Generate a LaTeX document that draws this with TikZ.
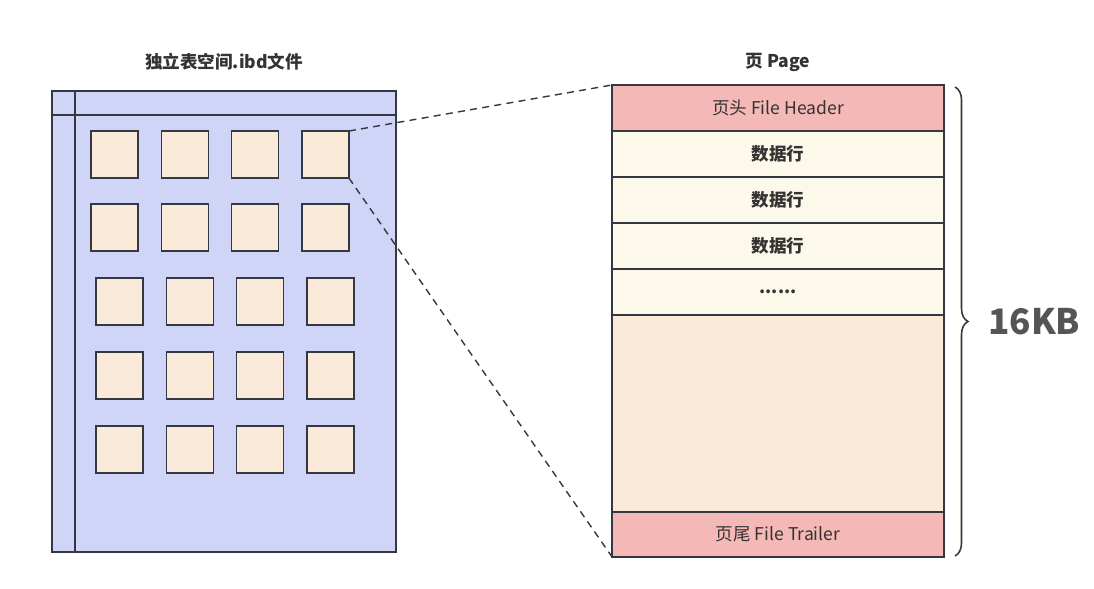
\documentclass[tikz,border=0pt]{standalone}
\usepackage{fontspec}
\setmainfont{Noto Sans CJK SC}
\usetikzlibrary{positioning,decorations.pathreplacing}
\definecolor{FileBlue}{RGB}{208,212,247}
\definecolor{BlockPeach}{RGB}{251,233,218}
\definecolor{HeadPink}{RGB}{244,184,182}
\definecolor{RowCream}{RGB}{252,248,234}
\definecolor{EdgeGray}{RGB}{51,56,66}
\definecolor{TextGray}{RGB}{51,51,51}
\definecolor{SizeGray}{RGB}{85,85,85}
\tikzset{
  block/.style={draw=EdgeGray,fill=BlockPeach,line width=0.9pt,minimum size=0.94cm,inner sep=0pt,outer sep=0pt},
  pagerow/.style={draw=EdgeGray,line width=0.9pt,minimum width=6.64cm,minimum height=0.92cm,inner sep=0pt,outer sep=0pt,text=TextGray},
  title/.style={text=TextGray,font=\bfseries},
}

\begin{document}
\begin{tikzpicture}[x=0.02cm,y=-0.02cm]
  \useasboundingbox (0,0) rectangle (1094,588);
  % the .ibd file
  \draw[draw=EdgeGray,fill=FileBlue,line width=0.9pt] (52,91) rectangle (396,552);
  \draw[EdgeGray,line width=0.9pt] (75,91) -- (75,552);
  \draw[EdgeGray,line width=0.9pt] (52,115) -- (396,115);
  \node[title] (filetitle) at (224,62) {独立表空间.ibd文件};
  \foreach \r/\y/\x in {1/131/91,2/204/91,3/278/96,4/352/96,5/426/96}
    \foreach \c in {1,...,4}
      \node[block,anchor=north west] (sq-\r-\c) at ({\x+(\c-1)*70.3},\y) {};
  % one page
  \node[title] (pagetitle) at (778,62) {页 Page};
  \node[pagerow,fill=HeadPink] (header) at (778,108) {页头 File Header};
  \node[pagerow,fill=RowCream,font=\bfseries,below=0pt of header] (row1) {数据行};
  \node[pagerow,fill=RowCream,font=\bfseries,below=0pt of row1] (row2) {数据行};
  \node[pagerow,fill=RowCream,font=\bfseries,below=0pt of row2] (row3) {数据行};
  \node[pagerow,fill=RowCream,font=\bfseries,below=0pt of row3] (dots) {\raisebox{-2pt}{......}};
  \node[pagerow,fill=BlockPeach,minimum height=3.94cm,below=0pt of dots] (free) {};
  \node[pagerow,fill=HeadPink,minimum height=0.9cm,below=0pt of free] (trailer) {页尾 File Trailer};
  \draw[EdgeGray,line width=0.8pt,dash pattern=on 4pt off 3pt] (sq-1-4.north east) -- (header.north west);
  \draw[EdgeGray,line width=0.8pt,dash pattern=on 4pt off 3pt] (sq-1-4.south east) -- (trailer.south west);
  % size brace
  \coordinate (bracetop) at (955,87);
  \coordinate (bracebot) at (955,556);
  \draw[EdgeGray,line width=0.9pt,decorate,decoration={brace,amplitude=0.26cm}] (bracetop) -- (bracebot);
  \node[anchor=west,text=SizeGray,font=\fontsize{20}{24}\selectfont\bfseries] (size) at (982,322) {16KB};
\end{tikzpicture}
\end{document}
